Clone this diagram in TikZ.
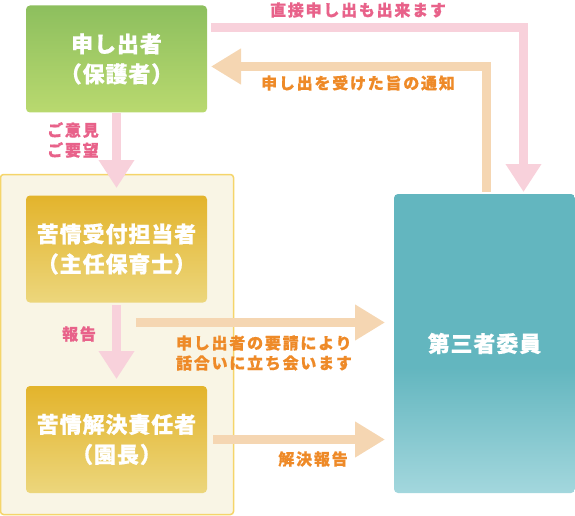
\documentclass[tikz,border=0pt]{standalone}
\usepackage{fontspec}
\newfontfamily\jpwide{Noto Sans CJK JP}[LetterSpace=11,BoldFeatures={FakeBold=0.6}]
\newfontfamily\jpbox{Noto Sans CJK JP}[LetterSpace=4,BoldFeatures={FakeBold=0.6}]
\usetikzlibrary{arrows.meta}
\definecolor{pinkarr}{HTML}{F8D1DB}
\definecolor{orgarr}{HTML}{F5D6B2}
\definecolor{pinktxt}{HTML}{E8628A}
\definecolor{orgtxt}{HTML}{EE8A28}
\definecolor{grtop}{HTML}{8DBF5E}
\definecolor{grbot}{HTML}{B9D96F}
\definecolor{gdtop}{HTML}{E3B42C}
\definecolor{gdbot}{HTML}{ECD67C}
\definecolor{tltop}{HTML}{63B6BF}
\definecolor{tlbot}{HTML}{A3D7DD}
\definecolor{frfill}{HTML}{F9F5E5}
\definecolor{frline}{HTML}{F5D56A}
\pgfdeclareverticalshading{tealshade}{100bp}{color(0bp)=(tlbot); color(25bp)=(tlbot); color(46bp)=(tltop); color(75bp)=(tltop); color(100bp)=(tltop)}
\tikzset{
  box/.style={rounded corners=4pt, minimum width=181pt, inner sep=0pt, align=center,
    text=white, font=\jpbox\bfseries\fontsize{22}{30}\selectfont},
  greenbox/.style={box, minimum height=107pt, top color=grtop, bottom color=grbot},
  goldbox/.style={box, minimum height=107pt, top color=gdtop, bottom color=gdbot},
  tealbox/.style={box, minimum height=299pt, shading=tealshade},
  frame/.style={draw=frline, line width=1.5pt, fill=frfill, rounded corners=3pt,
    minimum width=233pt, minimum height=340pt, inner sep=0pt},
  pinkarrow/.style={draw=pinkarr, line width=9pt, line join=miter,
    -{Triangle[width=34pt,length=28pt,fill=pinkarr]}},
  orgarrow/.style={draw=orgarr, line width=9pt, line join=miter,
    -{Triangle[width=34pt,length=30pt,fill=orgarr]}},
  lbl/.style={inner sep=0pt, align=left, font=\jpwide\bfseries\fontsize{16}{20}\selectfont},
  pinklbl/.style={lbl, text=pinktxt},
  orglbl/.style={lbl, text=orgtxt},
}
\begin{document}
\begin{tikzpicture}[x=1pt,y=-1pt]
\useasboundingbox (0,0) rectangle (575,516);
% container
\node[frame] (frame) at (117,344.5) {};
% boxes
\node[greenbox] (applicant) at (116.5,59) {申し出者\\（保護者）};
\node[goldbox] (receiver) at (116.5,249) {苦情受付担当者\\（主任保育士）};
\node[goldbox] (resolver) at (116.5,439.5) {苦情解決責任者\\（園長）};
\node[tealbox] (committee) at (484.5,343.5) {第三者委員};
% coordinates
\coordinate (a1s) at (211,27.5);
\coordinate (a1c) at (523.5,27.5);
\coordinate (a1e) at (523.5,192);
\coordinate (a2s) at (486.5,192);
\coordinate (a2c) at (486.5,66.5);
\coordinate (a2e) at (211,66.5);
\coordinate (a3s) at (116.5,113);
\coordinate (a3e) at (116.5,188);
\coordinate (a4s) at (116.5,305);
\coordinate (a4e) at (116.5,379);
\coordinate (a5s) at (136,322.5);
\coordinate (a5e) at (385,322.5);
\coordinate (a6s) at (213,439.5);
\coordinate (a6e) at (385,439.5);
% arrows
\draw[pinkarrow] (a1s) -- (a1c) -- (a1e);
\draw[orgarrow] (a2s) -- (a2c) -- (a2e);
\draw[pinkarrow] (a3s) -- (a3e);
\draw[pinkarrow] (a4s) -- (a4e);
\draw[orgarrow] (a5s) -- (a5e);
\draw[orgarrow] (a6s) -- (a6e);
% labels
\node[pinklbl] (l1) at (358,10) {直接申し出も出来ます};
\node[orglbl] (l2) at (358,83) {申し出を受けた旨の通知};
\node[pinklbl, anchor=west] (l3) at (47,140) {ご意見\\ご要望};
\node[pinklbl] (l4) at (79,334) {報告};
\node[orglbl] (l5) at (264,353) {申し出者の要請により\\話合いに立ち会います};
\node[orglbl] (l6) at (313,459) {解決報告};
\end{tikzpicture}
\end{document}
